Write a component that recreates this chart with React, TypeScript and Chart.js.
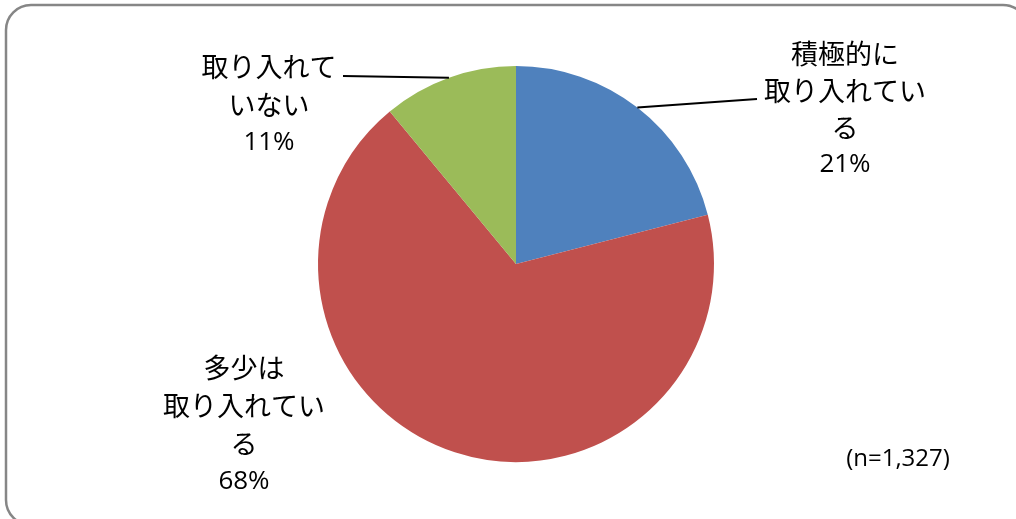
import React, { useEffect, useRef } from "react";
import { Chart, registerables } from "chart.js";

Chart.register(...registerables);

const categories = ["積極的に取り入れている", "多少は取り入れている", "取り入れていない"];
const values = [21, 68, 11];
const percentLabels = ["21%", "68%", "11%"];
const labelLines = [
  ["積極的に", "取り入れてい", "る"],
  ["多少は", "取り入れてい", "る"],
  ["取り入れて", "いない"],
];
const colors = ["#4F81BD", "#C0504D", "#9BBB59"];
const sampleNote = "(n=1,327)";

// label placement: center x, first-line center y, line height, leader end (or null)
const labelPlacement = [
  { cx: 845, y0: 54, lh: 37, leader: [757, 99] },
  { cx: 244, y0: 368, lh: 38, leader: null },
  { cx: 269, y0: 67, lh: 38, leader: [343, 76] },
];

const FONT = '"Noto Sans CJK JP", "Noto Sans", sans-serif';
const LATIN = '"Open Sans", "Noto Sans CJK JP", sans-serif';

const overlayPlugin = {
  id: "overlay",
  beforeDraw(chart: any) {
    const ctx = chart.ctx;
    ctx.save();
    ctx.fillStyle = "#ffffff";
    ctx.fillRect(0, 0, chart.width, chart.height);
    ctx.restore();
  },
  afterDraw(chart: any) {
    const ctx = chart.ctx;
    ctx.save();
    // outer rounded frame
    ctx.strokeStyle = "#868686";
    ctx.lineWidth = 2.5;
    ctx.beginPath();
    (ctx as any).roundRect(6, 5, 1022, 520, 25);
    ctx.stroke();

    const meta = chart.getDatasetMeta(0);
    ctx.fillStyle = "#000000";
    ctx.textAlign = "center";
    ctx.textBaseline = "middle";
    meta.data.forEach((arc: any, i: number) => {
      const p = labelPlacement[i];
      ctx.font = `27px ${FONT}`;
      labelLines[i].forEach((t, j) => {
        ctx.fillText(t, p.cx, p.y0 + j * p.lh);
      });
      ctx.font = `26px ${LATIN}`;
      ctx.fillText(percentLabels[i], p.cx, p.y0 + labelLines[i].length * p.lh);
      if (p.leader) {
        const { x, y, outerRadius, startAngle, endAngle } = arc.getProps(
          ["x", "y", "outerRadius", "startAngle", "endAngle"],
          true
        );
        const mid = (startAngle + endAngle) / 2;
        const sx = x + Math.cos(mid) * outerRadius;
        const sy = y + Math.sin(mid) * outerRadius;
        ctx.strokeStyle = "#000000";
        ctx.lineWidth = 2;
        ctx.beginPath();
        ctx.moveTo(sx, sy);
        ctx.lineTo(p.leader[0], p.leader[1]);
        ctx.stroke();
      }
    });

    ctx.font = `24px ${LATIN}`;
    ctx.fillText(sampleNote, 898, 459);
    ctx.restore();
  },
};

export default function App() {
  const ref = useRef<HTMLCanvasElement | null>(null);
  useEffect(() => {
    if (!ref.current) return;
    const chart = new Chart(ref.current, {
      type: "pie",
      data: {
        labels: categories,
        datasets: [
          {
            data: values,
            backgroundColor: colors,
            borderWidth: 0,
          },
        ],
      },
      options: {
        responsive: false,
        animation: false,
        layout: { padding: { top: 66, bottom: 57, left: 318, right: 302 } },
        plugins: {
          legend: { display: false },
          tooltip: { enabled: false },
        },
      },
      plugins: [overlayPlugin],
    });
    return () => chart.destroy();
  }, []);
  return (
    <div style={{ position: "absolute", left: 0, top: 0, width: 1016, height: 519 }}>
      <canvas ref={ref} width={1016} height={519} />
    </div>
  );
}
